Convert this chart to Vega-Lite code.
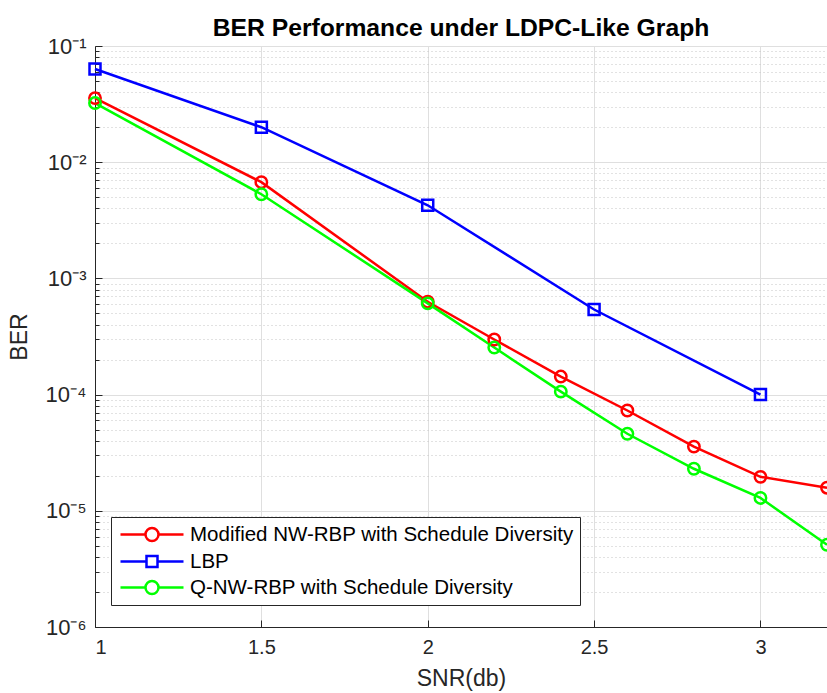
{
  "$schema": "https://vega.github.io/schema/vega-lite/v6.json",
  "width": 732,
  "height": 581,
  "autosize": {"type": "none"},
  "padding": {"left": 95, "top": 46, "right": 0, "bottom": 66},
  "background": "white",
  "title": {
    "text": "BER Performance under LDPC-Like Graph",
    "font": "Liberation Sans",
    "fontSize": 24.7,
    "fontWeight": "bold",
    "color": "#000000",
    "anchor": "middle",
    "offset": 4,
    "dy": 10
  },
  "config": {
    "view": {"stroke": "#262626", "strokeWidth": 1},
    "axis": {
      "labelFont": "Liberation Sans",
      "titleFont": "Liberation Sans",
      "labelColor": "#262626",
      "titleColor": "#262626",
      "domainColor": "#262626",
      "tickColor": "#262626",
      "labelFontSize": 20,
      "titleFontSize": 23,
      "titleFontWeight": "normal"
    }
  },
  "data": {
    "values": [
      {"snr": 1.0, "ber": 0.0356, "series": "Modified NW-RBP with Schedule Diversity"},
      {"snr": 1.5, "ber": 0.00673, "series": "Modified NW-RBP with Schedule Diversity"},
      {"snr": 2.0, "ber": 0.00063, "series": "Modified NW-RBP with Schedule Diversity"},
      {"snr": 2.2, "ber": 0.000298, "series": "Modified NW-RBP with Schedule Diversity"},
      {"snr": 2.4, "ber": 0.000143, "series": "Modified NW-RBP with Schedule Diversity"},
      {"snr": 2.6, "ber": 0.000073, "series": "Modified NW-RBP with Schedule Diversity"},
      {"snr": 2.8, "ber": 0.0000357, "series": "Modified NW-RBP with Schedule Diversity"},
      {"snr": 3.0, "ber": 0.0000196, "series": "Modified NW-RBP with Schedule Diversity"},
      {"snr": 3.2, "ber": 0.0000158, "series": "Modified NW-RBP with Schedule Diversity"},
      {"snr": 1.0, "ber": 0.0634, "series": "LBP"},
      {"snr": 1.5, "ber": 0.02, "series": "LBP"},
      {"snr": 2.0, "ber": 0.00426, "series": "LBP"},
      {"snr": 2.5, "ber": 0.00054, "series": "LBP"},
      {"snr": 3.0, "ber": 0.0001, "series": "LBP"},
      {"snr": 1.0, "ber": 0.0323, "series": "Q-NW-RBP with Schedule Diversity"},
      {"snr": 1.5, "ber": 0.0053, "series": "Q-NW-RBP with Schedule Diversity"},
      {"snr": 2.0, "ber": 0.00061, "series": "Q-NW-RBP with Schedule Diversity"},
      {"snr": 2.2, "ber": 0.000254, "series": "Q-NW-RBP with Schedule Diversity"},
      {"snr": 2.4, "ber": 0.000106, "series": "Q-NW-RBP with Schedule Diversity"},
      {"snr": 2.6, "ber": 0.000046, "series": "Q-NW-RBP with Schedule Diversity"},
      {"snr": 2.8, "ber": 0.000023, "series": "Q-NW-RBP with Schedule Diversity"},
      {"snr": 3.0, "ber": 0.0000129, "series": "Q-NW-RBP with Schedule Diversity"},
      {"snr": 3.2, "ber": 0.0000051, "series": "Q-NW-RBP with Schedule Diversity"}
    ]
  },
  "encoding": {
    "x": {
      "field": "snr",
      "type": "quantitative",
      "scale": {"domain": [1, 3.2], "nice": false, "zero": false},
      "axis": {
        "title": "SNR(db)",
        "values": [1, 1.5, 2, 2.5, 3],
        "format": "~g",
        "grid": true,
        "gridColor": "#dfdfdf",
        "gridWidth": 1,
        "tickSize": -7,
        "labelPadding": 17,
        "titlePadding": 10
      }
    },
    "y": {
      "field": "ber",
      "type": "quantitative",
      "scale": {"type": "log", "domain": [0.000001, 0.1], "nice": false},
      "axis": {
        "title": "BER",
        "values": [0.000001, 0.000002, 0.000003, 0.000004, 0.000005, 0.000006, 0.000007, 0.000008, 0.000009,
                   0.00001, 0.00002, 0.00003, 0.00004, 0.00005, 0.00006, 0.00007, 0.00008, 0.00009,
                   0.0001, 0.0002, 0.0003, 0.0004, 0.0005, 0.0006, 0.0007, 0.0008, 0.0009,
                   0.001, 0.002, 0.003, 0.004, 0.005, 0.006, 0.007, 0.008, 0.009,
                   0.01, 0.02, 0.03, 0.04, 0.05, 0.06, 0.07, 0.08, 0.09, 0.1],
        "labelExpr": "abs(log(datum.value)/LN10 - round(log(datum.value)/LN10)) < 0.001 ? '10' + ['⁻⁶','⁻⁵','⁻⁴','⁻³','⁻²','⁻¹'][round(log(datum.value)/LN10)+6] : ''",
        "labelFontSize": 22,
        "grid": true,
        "gridColor": {"condition": {"test": "abs(log(datum.value)/LN10 - round(log(datum.value)/LN10)) < 0.001", "value": "#dfdfdf"}, "value": "#c4c4c4"},
        "gridDash": {"condition": {"test": "abs(log(datum.value)/LN10 - round(log(datum.value)/LN10)) < 0.001", "value": []}, "value": [1, 3]},
        "tickSize": {"condition": {"test": "abs(log(datum.value)/LN10 - round(log(datum.value)/LN10)) < 0.001", "value": -7}, "value": -4},
        "labelPadding": 16,
        "titlePadding": 14
      }
    },
    "color": {
      "field": "series",
      "type": "nominal",
      "sort": ["Modified NW-RBP with Schedule Diversity", "LBP", "Q-NW-RBP with Schedule Diversity"],
      "scale": {
        "domain": ["Modified NW-RBP with Schedule Diversity", "LBP", "Q-NW-RBP with Schedule Diversity"],
        "range": ["#ff0000", "#0000ff", "#00ff00"]
      },
      "legend": {
        "title": null,
        "orient": "none",
        "legendX": 16,
        "legendY": 471,
        "fillColor": "white",
        "strokeColor": "#262626",
        "padding": 6,
        "labelFont": "Liberation Sans",
        "labelFontSize": 20.5,
        "labelColor": "#000000",
        "labelLimit": 0,
        "labelOffset": 50,
        "rowPadding": 4,
        "symbolSize": 400,
        "symbolStrokeWidth": 2.5,
        "encode": {
          "symbols": {
            "update": {
              "shape": {"signal": "datum.value === 'LBP' ? 'M-0.8,0H1.8M2.9,0H5.5M1.8,-0.55H2.9V0.55H1.8Z' : 'M-0.8,0H1.7M3,0H5.5M3,0A0.65,0.65 0 1,1 1.7,0A0.65,0.65 0 1,1 3,0Z'"},
              "fill": {"value": "transparent"},
              "strokeWidth": {"value": 2.5}
            }
          }
        }
      }
    }
  },
  "layer": [
    {
      "mark": {"type": "line", "strokeWidth": 2.5, "clip": false}
    },
    {
      "transform": [{"filter": "datum.series !== 'LBP'"}],
      "mark": {"type": "point", "shape": "circle", "filled": false, "strokeWidth": 2.5, "opacity": 1, "size": 130, "clip": false}
    },
    {
      "transform": [{"filter": "datum.series === 'LBP'"}],
      "mark": {"type": "point", "shape": "square", "filled": false, "strokeWidth": 2.5, "opacity": 1, "size": 121, "clip": false}
    }
  ]
}
